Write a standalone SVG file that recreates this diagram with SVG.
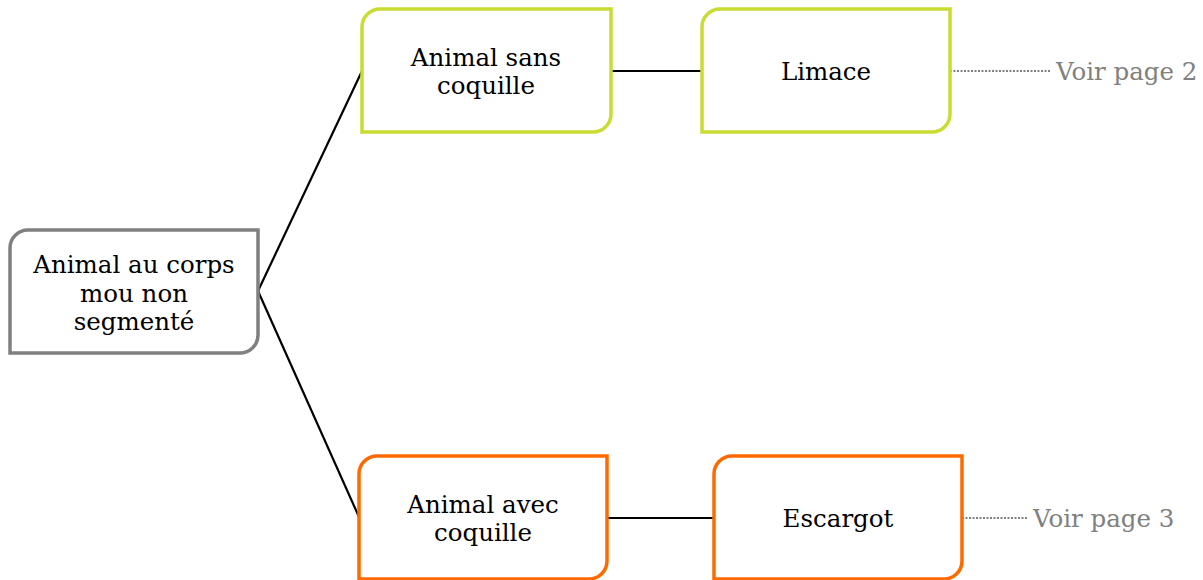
<svg xmlns="http://www.w3.org/2000/svg" width="1203" height="580" viewBox="0 0 1203 580">
<style>
.box{fill:#fff;stroke-width:3.5}
.g{stroke:#808080}
.y{stroke:#c8dc32}
.o{stroke:#ff6a00}
.t{font-family:"DejaVu Serif","Liberation Serif",serif;font-size:24.5px;fill:#000;text-anchor:middle}
.n{font-family:"DejaVu Serif","Liberation Serif",serif;font-size:24.5px;fill:#808080}
.c{stroke:#000;stroke-width:2.2;fill:none}
.d{stroke:#808080;stroke-width:2.2;stroke-dasharray:2 1.5;fill:none}
</style>
<rect width="1203" height="580" fill="#fff"/>
<g id="connectors">
<path class="c" d="M258 291 L362 71"/>
<path class="c" d="M258 291 L359 517"/>
<path class="c" d="M611 71 L702 71"/>
<path class="c" d="M607 518 L714 518"/>
<path class="d" d="M950 71 L1050 71"/>
<path class="d" d="M962 518 L1028 518"/>
</g>
<g id="n1">
<path class="box g" d="M28 230 H258 V335 A18 18 0 0 1 240 353 H10 V248 A18 18 0 0 1 28 230 Z"/>
<text class="t" x="134" y="273">Animal au corps</text>
<text class="t" x="134" y="302">mou non</text>
<text class="t" x="134" y="330">segmenté</text>
</g>
<g id="n2">
<path class="box y" d="M380 9 H611 V114 A18 18 0 0 1 593 132 H362 V27 A18 18 0 0 1 380 9 Z"/>
<text class="t" x="486" y="66">Animal sans</text>
<text class="t" x="486" y="94">coquille</text>
</g>
<g id="n3">
<path class="box y" d="M720 9 H950 V114 A18 18 0 0 1 932 132 H702 V27 A18 18 0 0 1 720 9 Z"/>
<text class="t" x="826" y="80">Limace</text>
<text class="n" x="1056" y="80">Voir page 2</text>
</g>
<g id="n4">
<path class="box o" d="M377 456 H607 V561 A18 18 0 0 1 589 579 H359 V474 A18 18 0 0 1 377 456 Z"/>
<text class="t" x="483" y="513">Animal avec</text>
<text class="t" x="483" y="541">coquille</text>
</g>
<g id="n5">
<path class="box o" d="M732 456 H962 V561 A18 18 0 0 1 944 579 H714 V474 A18 18 0 0 1 732 456 Z"/>
<text class="t" x="838" y="527">Escargot</text>
<text class="n" x="1033" y="527">Voir page 3</text>
</g>
</svg>
